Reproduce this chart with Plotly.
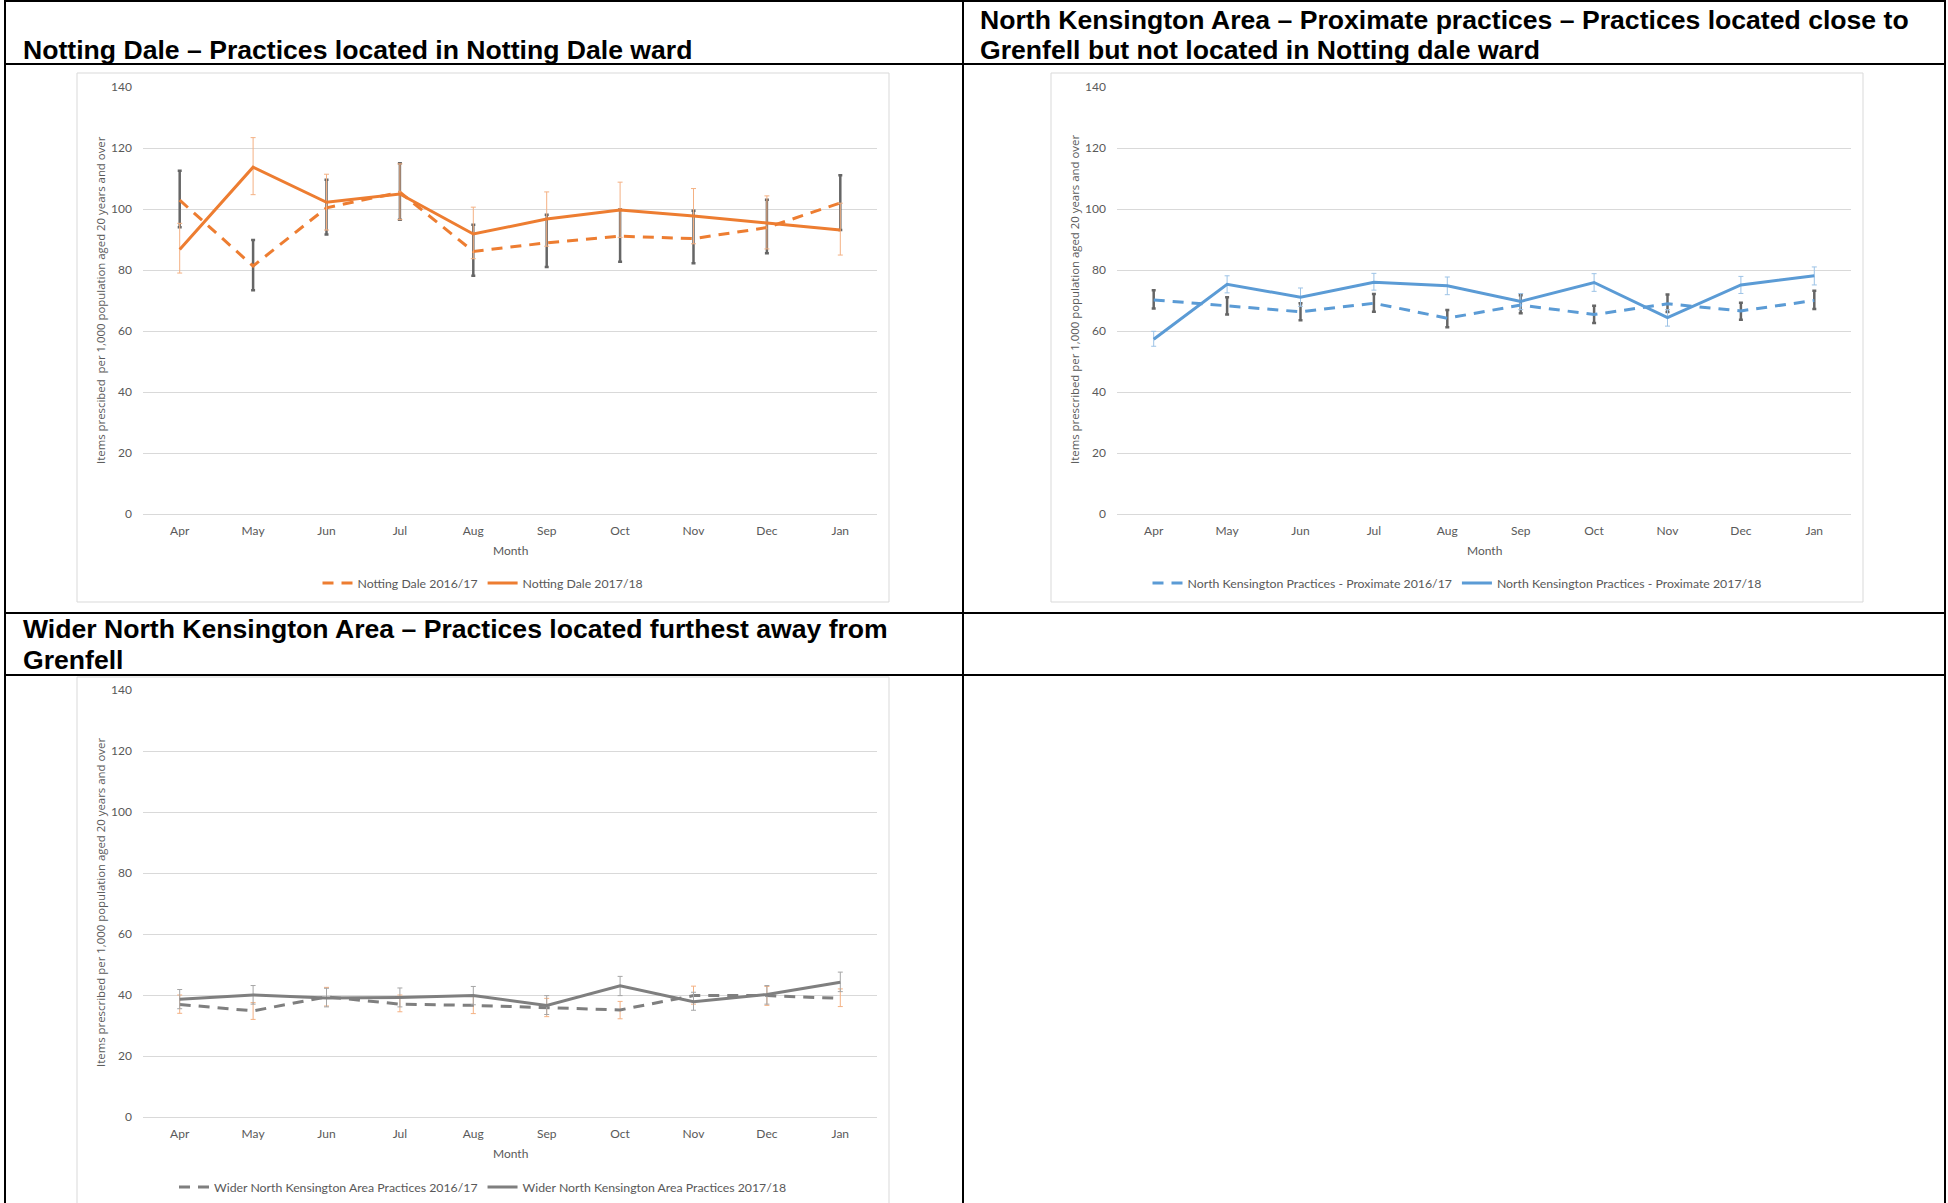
import plotly.graph_objects as go

# ---------------- data ----------------
months = ["Apr", "May", "Jun", "Jul", "Aug", "Sep", "Oct", "Nov", "Dec", "Jan"]

# Notting Dale
nd_1617 = [102.9, 81.3, 100.4, 105.5, 86.1, 88.9, 91.1, 90.3, 93.9, 102.0]
nd_1617_hi = [112.5, 89.8, 109.6, 115.0, 94.8, 98.1, 99.8, 99.4, 103.0, 111.1]
nd_1617_lo = [94.0, 73.4, 91.6, 96.5, 78.1, 81.0, 82.7, 82.2, 85.5, 93.1]
nd_1718 = [86.7, 113.7, 102.2, 104.9, 91.8, 96.7, 99.7, 97.7, 95.4, 93.1]
nd_1718_hi = [95.3, 123.4, 111.4, 114.8, 100.6, 105.6, 108.8, 106.7, 104.3, 101.9]
nd_1718_lo = [79.0, 104.7, 93.1, 96.5, 83.7, 87.8, 90.7, 88.6, 86.9, 84.9]

# North Kensington - Proximate
nk_1617 = [70.2, 68.2, 66.3, 69.1, 64.2, 68.5, 65.4, 68.9, 66.6, 70.0]
nk_1617_hi = [73.4, 71.1, 69.1, 72.1, 66.9, 71.7, 68.3, 72.0, 69.3, 73.2]
nk_1617_lo = [67.4, 65.4, 63.5, 66.3, 61.2, 65.8, 62.6, 66.2, 63.7, 67.2]
nk_1718 = [57.3, 75.3, 71.1, 76.0, 74.8, 69.7, 75.9, 64.4, 75.1, 78.1]
nk_1718_hi = [59.9, 78.1, 74.1, 78.9, 77.7, 72.3, 78.8, 67.0, 77.9, 81.0]
nk_1718_lo = [55.0, 72.5, 68.1, 73.4, 71.9, 67.0, 73.0, 61.6, 72.3, 75.1]

# Wider North Kensington
wnk_1617 = [36.9, 34.8, 39.4, 37.0, 36.6, 35.8, 35.1, 39.8, 39.8, 38.9]
wnk_1617_hi = [40.0, 37.5, 42.5, 40.0, 39.5, 38.9, 37.9, 42.9, 42.8, 42.0]
wnk_1617_lo = [34.0, 32.0, 36.4, 34.5, 33.9, 32.9, 32.2, 37.0, 36.6, 36.2]
wnk_1718 = [38.6, 40.0, 39.0, 39.2, 39.8, 36.6, 43.0, 37.8, 40.2, 44.2]
wnk_1718_hi = [41.8, 43.1, 42.2, 42.3, 42.8, 39.8, 46.1, 40.9, 43.1, 47.5]
wnk_1718_lo = [35.5, 37.0, 36.1, 36.1, 36.8, 33.6, 39.8, 35.0, 37.0, 41.1]

header_lines_1 = ["Notting Dale \u2013 Practices located in Notting Dale ward"]
header_lines_2 = ["North Kensington Area \u2013 Proximate practices \u2013 Practices located close to",
                  "Grenfell but not located in Notting dale ward"]
header_lines_3 = ["Wider North Kensington Area \u2013 Practices located furthest away from",
                  "Grenfell"]
y_titles = [
    "Items prescibed  per 1,000 population aged 20 years and over",
    "Items prescribed per 1,000 population aged 20 years and over",
    "Items prescribed per 1,000 population aged 20 years and over",
]

# ---------------- layout helpers ----------------
W, H = 1948, 1203


def px(x):
    return x / W


def py(y):
    return 1 - y / H


ORANGE = "#ED7D31"
BLUE = "#5B9BD5"
GREY = "#7F7F7F"
DARK_ERR = "#666666"
LIGHT_ORANGE = "#F4B183"
LIGHT_BLUE = "#9DC3E6"
LIGHT_GREY = "#A6A6A6"
TXT = "#595959"
FONT = "Lato"

fig = go.Figure()


def add_series(xa, ya, legend, name, vals, hi, lo, color, dash, ecolor, ethick, ewidth):
    plus = [h - v for h, v in zip(hi, vals)]
    minus = [v - l for v, l in zip(vals, lo)]
    fig.add_trace(go.Scatter(
        x=months, y=vals, name=name, mode="lines",
        line=dict(color=color, width=3, dash=dash),
        error_y=dict(type="data", symmetric=False, array=plus, arrayminus=minus,
                     color=ecolor, thickness=ethick, width=ewidth),
        xaxis=xa, yaxis=ya, legend=legend, hoverinfo="x+y+name",
    ))


DASH = "11px,8px"

add_series("x", "y", "legend", "Notting Dale 2016/17", nd_1617, nd_1617_hi, nd_1617_lo,
           ORANGE, DASH, DARK_ERR, 2.5, 2)
add_series("x", "y", "legend", "Notting Dale 2017/18", nd_1718, nd_1718_hi, nd_1718_lo,
           ORANGE, "solid", LIGHT_ORANGE, 1, 2.5)

add_series("x2", "y2", "legend2", "North Kensington Practices - Proximate 2016/17", nk_1617, nk_1617_hi, nk_1617_lo,
           BLUE, DASH, DARK_ERR, 2.5, 2)
add_series("x2", "y2", "legend2", "North Kensington Practices - Proximate 2017/18", nk_1718, nk_1718_hi, nk_1718_lo,
           BLUE, "solid", LIGHT_BLUE, 1, 2.5)

add_series("x3", "y3", "legend3", "Wider North Kensington Area Practices 2016/17", wnk_1617, wnk_1617_hi, wnk_1617_lo,
           GREY, DASH, LIGHT_ORANGE, 1, 2.5)
add_series("x3", "y3", "legend3", "Wider North Kensington Area Practices 2017/18", wnk_1718, wnk_1718_hi, wnk_1718_lo,
           GREY, "solid", LIGHT_GREY, 1, 2.5)

tickfont = dict(family=FONT, size=12, color=TXT)


def xax(domain, anchor):
    return dict(domain=domain, anchor=anchor, type="category", categoryorder="array",
                categoryarray=months, range=[-0.5, 9.5], showgrid=False, zeroline=False,
                showline=False, ticks="", tickfont=tickfont, ticklabelstandoff=8, fixedrange=True)


def yax(domain, anchor):
    return dict(domain=domain, anchor=anchor, range=[0, 140], dtick=20, tick0=0,
                showgrid=True, gridcolor="#D9D9D9", gridwidth=1, zeroline=True,
                zerolinecolor="#D9D9D9", zerolinewidth=1, showline=False, ticks="",
                tickfont=tickfont, ticklabelstandoff=10, fixedrange=True)


# plot-area pixel boxes
P1 = dict(x0=143, x1=877, y0=87, y1=514)
P2 = dict(x0=1117, x1=1851, y0=87, y1=514)
P3 = dict(x0=143, x1=877, y0=690, y1=1117)

fig.update_layout(
    width=W, height=H, margin=dict(l=0, r=0, t=0, b=0, autoexpand=False),
    paper_bgcolor="white", plot_bgcolor="white",
    xaxis=xax([px(P1["x0"]), px(P1["x1"])], "y"),
    yaxis=yax([py(P1["y1"]), py(P1["y0"])], "x"),
    xaxis2=xax([px(P2["x0"]), px(P2["x1"])], "y2"),
    yaxis2=yax([py(P2["y1"]), py(P2["y0"])], "x2"),
    xaxis3=xax([px(P3["x0"]), px(P3["x1"])], "y3"),
    yaxis3=yax([py(P3["y1"]), py(P3["y0"])], "x3"),
    showlegend=True,
)

legend_common = dict(orientation="h", xanchor="center", yanchor="middle",
                     font=dict(family=FONT, size=12.3, color=TXT), bgcolor="rgba(0,0,0,0)")
fig.update_layout(
    legend=dict(legend_common, x=px(483), y=py(583)),
    legend2=dict(legend_common, x=px(1457), y=py(583)),
    legend3=dict(legend_common, x=px(483), y=py(1187)),
)

shapes = []
# table lines
BL = dict(color="black", width=2)
for yy in [1, 64, 613, 675]:
    shapes.append(dict(type="line", xref="paper", yref="paper", x0=px(4), x1=px(1946),
                       y0=py(yy), y1=py(yy), line=BL))
for xx in [5, 963, 1945]:
    shapes.append(dict(type="line", xref="paper", yref="paper", x0=px(xx), x1=px(xx),
                       y0=py(0), y1=py(1203), line=BL))
# chart frames
FR = dict(color="#D9D9D9", width=1)
for (x0, x1, y0, y1) in [(77, 889, 73, 602), (1051, 1863, 73, 602), (77, 889, 677, 1215)]:
    shapes.append(dict(type="rect", xref="paper", yref="paper", x0=px(x0), x1=px(x1),
                       y0=py(y1), y1=py(y0), line=FR, fillcolor="rgba(0,0,0,0)", layer="below"))
fig.update_layout(shapes=shapes)

ann = []
HF = dict(family="Liberation Sans, Arial, sans-serif", size=26.6, color="black")
header_specs = [(21, [50], header_lines_1), (978, [20, 50], header_lines_2), (21, [629, 660], header_lines_3)]
for xl, ys, lines in header_specs:
    for yy, line in zip(ys, lines):
        ann.append(dict(text="<b>" + line + "</b>", x=px(xl), y=py(yy), xref="paper", yref="paper",
                        xanchor="left", yanchor="middle", showarrow=False, font=HF, align="left"))

YTF = dict(family="Open Sans", size=11.4, color=TXT)
for xc, yc, t in [(100, 300, y_titles[0]), (1074, 300, y_titles[1]), (100, 903, y_titles[2])]:
    ann.append(dict(text=t, x=px(xc), y=py(yc), xref="paper", yref="paper", textangle=-90,
                    xanchor="center", yanchor="middle", showarrow=False, font=YTF))
MF = dict(family=FONT, size=12, color=TXT)
for xc, yc in [(510, 550), (1484, 550), (510, 1153)]:
    ann.append(dict(text="Month", x=px(xc), y=py(yc), xref="paper", yref="paper",
                    xanchor="center", yanchor="middle", showarrow=False, font=MF))
fig.update_layout(annotations=ann)

fig.write_html(
    "out.html",
    config={"displayModeBar": False},
    post_script="document.body.style.margin='0';document.body.style.padding='0';document.body.style.overflow='hidden';",
)
